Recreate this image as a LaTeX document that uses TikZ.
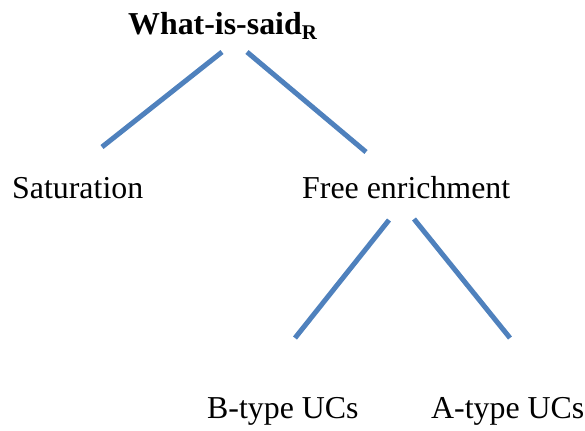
\documentclass[tikz,border=0pt]{standalone}
\usepackage{fontspec}
\setmainfont{Liberation Serif}
\usetikzlibrary{positioning}
\definecolor{branchblue}{RGB}{79,129,189}

\begin{document}
\begin{tikzpicture}[x=1bp, y=-1bp, word/.style={anchor=base west, inner sep=0pt,
		font=\fontsize{32}{38}\selectfont}, branch/.style={draw=branchblue, line width=5bp}]
	\useasboundingbox (0,0) rectangle (585,430);
	\node[word, font=\fontsize{32}{38}\selectfont\bfseries] (0) at (128, 34) {What-is-said\raisebox{-5bp}{\fontsize{21}{24}\selectfont R}};
	\node[word] (1) at (12, 198) {Saturation};
	\node[word] (2) at (302, 198) {Free enrichment};
	\node[word] (3) at (207, 418) {B-type UCs};
	\node[word] (4) at (431, 418) {A-type UCs};
	\coordinate (0l) at (222, 52);
	\coordinate (0r) at (247, 52);
	\coordinate (1t) at (102, 147);
	\coordinate (2t) at (366, 152);
	\coordinate (2l) at (389, 220);
	\coordinate (2r) at (414, 219);
	\coordinate (3t) at (295, 338);
	\coordinate (4t) at (510, 338);
	\draw[branch] (0l) to (1t);
	\draw[branch] (0r) to (2t);
	\draw[branch] (2l) to (3t);
	\draw[branch] (2r) to (4t);
\end{tikzpicture}
\end{document}
